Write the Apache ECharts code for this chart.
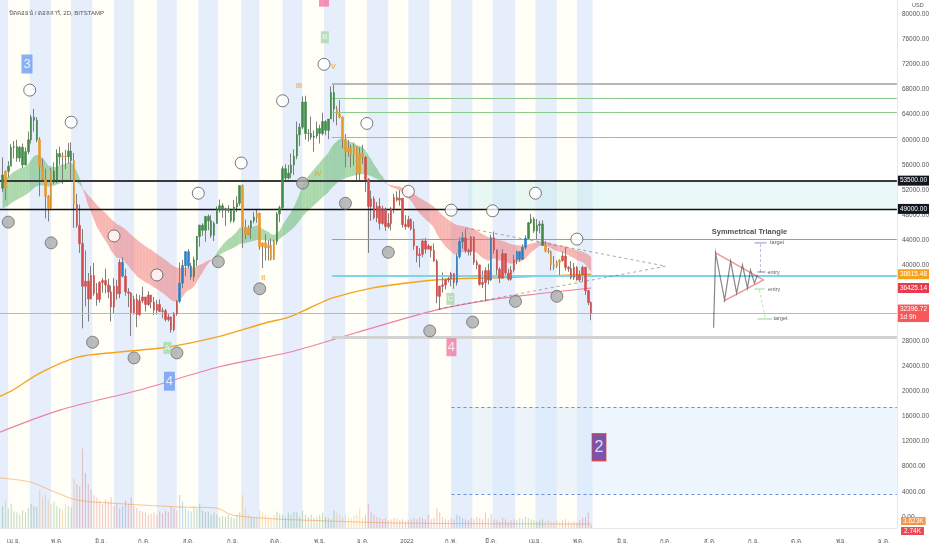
<!DOCTYPE html>
<html><head><meta charset="utf-8">
<script src="https://cdn.jsdelivr.net/npm/echarts@6/dist/echarts.min.js"></script>
<style>html,body{margin:0;padding:0;background:#fff}#c{width:932px;height:550px}</style>
</head><body><div id="c"></div>
<script>
// ---------------- DATA ----------------
const chartTitle = 'บิตคอยน์ / ดอลลาร์, 2D, BITSTAMP';
const firstCandleDate = '2021-03-23';
const candleDays = 2;
const firstOpen = 54400;
const closes = [52300,55000,55800,58800,58900,57100,58800,56000,58100,60000,
63600,63100,60000,55700,53800,51000,49100,55000,53600,57800,
57300,57400,57300,58200,56700,49700,46400,43500,36700,37500,
34700,38400,35600,34600,37300,37600,36900,35800,33400,36700,
35500,40500,38300,35800,35600,32500,34600,32200,34400,35000,
33800,35300,34200,32900,33800,32700,32800,31400,31800,29800,
32300,34300,37200,40000,42200,39900,38200,40900,44600,46400,
45600,47800,47100,44800,46700,48900,49500,48900,49000,48800,
47100,49300,49900,52700,46100,44900,46000,47100,47700,48300,
43000,43600,42800,43200,41000,43800,48200,49200,55400,53900,
54700,56000,57400,60800,62000,66000,61000,61000,60400,60600,
61800,61000,62900,61500,63300,67500,64900,64100,63600,60100,
58100,58700,57600,58900,54700,57800,57200,53700,49400,50600,
47600,49400,46700,48900,46200,46700,49000,50800,50400,50700,
46500,46200,47300,45800,43100,41600,41800,43900,42600,43100,
42400,40700,35100,36700,36900,37700,37900,38700,37300,41400,
43800,44400,42400,42200,44500,40500,40100,37000,37300,39200,
37700,44400,42500,39400,38000,41900,38800,37800,39300,40900,
42200,41000,42900,44300,46800,47400,45500,46400,46600,43200,
42300,42200,40100,39900,40500,40800,41500,39700,39500,38100,
39700,37700,38500,39700,36000,34100,32396.72];
const highs = [57200,55100,56600,59300,59800,60000,59000,59400,58800,61300,
64000,64900,63600,60400,57000,55400,51200,55500,56400,58500,
58900,58000,58400,59500,59600,57900,51400,49700,45800,42400,
38800,39900,40400,37200,37500,38000,39500,37900,36800,38000,
37700,41000,41300,39500,36400,35800,35200,35500,35300,36600,
35000,35900,35300,35000,34500,34600,33300,33100,32400,31900,
32600,34500,40500,40900,42300,42600,40400,41400,44700,46500,
46700,47900,48100,48000,47000,49400,50500,49900,49200,49600,
48900,50400,51000,52800,52900,47300,46400,47200,48500,48800,
48400,43600,45000,44000,44300,44100,48500,49500,55800,56100,
56000,57800,58500,62900,62600,66900,67000,61700,63700,61500,
62900,62400,64300,63100,63300,68500,69000,65400,66300,63700,
60900,60000,59200,59400,59000,58800,59200,57400,53900,51900,
51000,50100,50700,49500,49200,48300,49300,51400,51800,52000,
50700,48000,47900,47500,47000,43100,42800,44300,44400,43400,
43100,43500,41000,36800,38900,37900,38300,39000,38800,41900,
44500,45300,45800,42700,44700,44600,40900,40100,39200,39700,
40300,44900,45400,42500,39700,42600,41900,39500,39900,41700,
42400,42300,43400,44800,46900,48200,47700,47400,47100,47200,
43900,42800,42400,41500,40800,41000,42200,42900,39900,40700,
40400,39900,39200,40000,39800,36100,34300];
const lows = [51700,50400,54000,55800,57000,56500,56500,55500,55900,57700,
59400,61300,59600,51000,53500,47500,47000,48800,53000,53100,
56000,53000,55300,56200,53400,46000,46000,42000,30000,33500,
31100,34600,35200,33600,34100,35700,35600,34800,31100,32400,
34600,34800,38100,35200,33400,28800,32200,30200,32000,34000,
32700,33600,33200,32100,32200,32600,31600,31100,31100,29300,
29500,32000,34000,36400,38300,39500,37700,37500,39900,43000,
44700,43800,45600,44400,43900,46700,48400,47600,46300,48400,
46800,46800,48500,49500,42800,44200,44800,44200,46700,46800,
42500,39600,40800,40800,40800,40900,43300,46900,49000,53400,
53700,53900,54400,56900,59000,61700,60000,59700,60000,58100,
60200,59400,60700,60700,60100,63300,62800,62300,63400,58600,
55600,57300,55600,55900,53500,53400,56200,51700,42000,47100,
47300,46900,45700,46500,45500,45900,45600,48300,50200,49500,
46000,45700,46000,45600,42500,40500,39700,41300,41900,42600,
41300,40600,34000,32900,35700,36200,37300,36700,36300,36800,
41100,42700,42000,41600,41600,40100,39400,36800,36400,34300,
37000,37500,41900,38500,37200,37900,38200,37600,37600,38900,
40200,40600,40900,42500,44100,46600,45200,44200,45100,43100,
42100,41900,39200,39300,39600,38500,40600,39200,39000,37800,
37700,37600,37400,37500,35300,33700,31300];
// volume per candle, thousands BTC
const volumes = [20,25,18,22,15,14,12,16,14,18,
22,20,19,35,28,30,26,22,24,20,
18,16,22,20,19,45,40,38,72,50,
40,35,30,28,25,22,26,24,28,20,
22,18,20,25,22,28,20,18,16,15,
14,12,13,14,12,15,13,16,14,20,
18,16,30,24,18,16,15,20,18,22,
16,14,15,12,14,12,10,11,10,12,
10,9,12,14,30,18,12,10,9,10,
16,14,12,10,9,12,15,13,12,10,
14,12,15,14,10,16,12,10,12,9,
10,12,14,10,9,8,16,14,12,10,
12,10,9,11,12,18,10,12,22,14,
12,10,9,8,9,7,8,9,8,7,
8,6,7,8,9,8,10,9,8,12,
8,9,18,14,10,8,7,9,8,12,
11,9,8,7,9,8,10,9,8,14,
9,13,8,7,6,9,8,6,7,8,
7,9,8,10,9,8,7,6,7,8,
6,7,6,5,7,6,7,8,6,5,
6,5,7,9,10,14,2.74];
// trend-state of each candle (indicator colouring): g bull, o pullback, r bear, b rebound
const trendRuns = [['g',1],['o',1],['g',11],['o',5],['g',3],['o',2],['g',2],['o',1],['r',16],['b',1],['r',19],
['b',5],['g',17],['o',3],['g',2],['o',7],['g',21],['o',10],['r',32],['b',3],['r',9],['b',1],['r',8],['b',4],
['g',6],['o',6],['r',11]];
// EMA ribbon (fast / slow) lengths and values at the left edge
const ribbonLengths = [21, 55];
const ribbonStart = [54000, 49000];
// moving averages: days since 2021-04-01 -> value
const orangeMaDays = [-9.8,-0.7,18.1,43.9,71.9,106.7,141.6,176.5,192.5,206.5,222.5,250.4,285.3,309,332,366.9,404];
const orangeMaVals = [19200,20200,22900,25400,26200,27000,28600,30900,31800,33200,34800,36400,37500,37900,38000,38300,38615];
const pinkMaDays = [-9.8,32.1,87.9,143.7,192.5,239.3,295.1,332,366.9,404];
const pinkMaVals = [13500,17000,20200,23900,26200,29300,32900,34500,35500,36425];
const volMaDays = [-9.8,11.2,28.6,43.9,67,115.8,141.6,152.8,183.5,199.5,269.3,404];
const volMaVals = [45.5,41.8,32.7,25.5,22.7,19.1,18.2,11.8,8.2,7.3,4.5,3.6];
// moon phases
const priorNewMoon = '2021-03-13';
const newMoons = ['2021-04-12','2021-05-11','2021-06-10','2021-07-10','2021-08-08','2021-09-07','2021-10-06','2021-11-04','2021-12-04','2022-01-02','2022-02-01','2022-03-02','2022-04-01','2022-04-30'];
const newMoonLevels = [67900,62800,44700,38500,51500,56300,66200,72000,62600,51800,48800,48700,51500,44200];
const fullMoons = ['2021-03-28','2021-04-27','2021-05-26','2021-06-24','2021-07-24','2021-08-22','2021-09-20','2021-10-20','2021-11-19','2021-12-19','2022-01-17','2022-02-16','2022-03-18','2022-04-16'];
const fullMoonLevels = [46900,43600,27800,25300,26100,40600,36300,53100,49900,42100,29600,31000,34300,35100];
// axis ticks
const monthTickDates = ['2021-04-01','2021-05-01','2021-06-01','2021-07-01','2021-08-01','2021-09-01','2021-10-01','2021-11-01','2021-12-01','2022-01-01','2022-02-01','2022-03-01','2022-04-01','2022-05-01','2022-06-01','2022-07-01','2022-08-01','2022-09-01','2022-10-01','2022-11-01','2022-12-01'];
const monthTickLabels = ['เม.ย.','พ.ค.','มิ.ย.','ก.ค.','ส.ค.','ก.ย.','ต.ค.','พ.ย.','ธ.ค.','2022','ก.พ.','มี.ค.','เม.ย.','พ.ค.','มิ.ย.','ก.ค.','ส.ค.','ก.ย.','ต.ค.','พ.ย.','ธ.ค.'];
const priceTicks = [0,4000,8000,12000,16000,20000,24000,28000,32000,36000,40000,44000,48000,52000,56000,60000,64000,68000,72000,76000,80000];
// horizontal levels
const keyLevels = [53500, 49000];
const peakDay = 222.5;
const fibLevels = [68900, 66600, 64400, 60400];
const cyanLevels = [44100, 38300];
const baseLevel = 28600;
const targetZone = [17500, 3660];
const targetZoneDay = 306.2;
const resistZoneDay = 318;
const lastPrice = 32396.72;
const orangeLast = 38615.48;
const pinkLast = 36425.14;
// triangle (days since 2021-04-01, price)
const triUpper = [[316, 46000], [456.2, 39900]];
const triLower = [[297.2, 33100], [456.2, 39900]];
// wave labels
const waveBoxText = ['3','4','A','B','C','4','','2'];
const waveBoxKind = ['blue','blue','green','green','green','pink','pink','purple'];
const waveBoxDay = [9.1,108.8,107.4,217.6,305.5,306.2,217,409.5];
const waveBoxPrice = [72050,21600,26900,76300,34700,27000,82600,11100];
const romanText = ['II','III','IV','V'];
const romanDay = [174.4,199.5,212.8,223.5];
const romanPrice = [38000,68600,54600,71500];
// symmetrical triangle sketch
const sketchZigDays = [489.7,491.1,497.4,501.6,505.8,509.9,513.4,515.5,518.3,520.4];
const sketchZigVals = [30100,42000,34500,40700,35600,40100,36400,39300,37200,38500];
const sketchRedDays = [491.1,524.6,496.7];
const sketchRedVals = [42000,37700,34350];

// ---------------- BUILD ----------------
const ORIGIN = Date.UTC(2021, 3, 1);
function dayOf(s){ const p = s.split('-').map(Number); return (Date.UTC(p[0], p[1]-1, p[2]) - ORIGIN) / 86400000; }
const X_MIN = -9.8, X_MAX = 618, Y_MIN = -1750, Y_MAX = 82230;
const FONT = "'Liberation Sans','Noto Sans',sans-serif";
const candleStart = dayOf(firstCandleDate);
const N = closes.length;
const candleX = closes.map((_, i) => candleStart + i*candleDays + candleDays/2);
const opens = closes.map((c, i) => i === 0 ? firstOpen : closes[i-1]);
const states = [];
trendRuns.forEach(([s, n]) => { for (let k = 0; k < n; k++) states.push(s); });
const stateColor = {g:'#3f8c48', r:'#d44d4b', o:'#e9992a', b:'#2b82c6'};
const lastEnd = candleStart + N*candleDays;

// EMA ribbon
const emaF = [], emaS = [];
{ let f = ribbonStart[0], s = ribbonStart[1];
  const af = 2/(ribbonLengths[0]+1), as = 2/(ribbonLengths[1]+1);
  closes.forEach(c => { f += af*(c-f); s += as*(c-s); emaF.push(f); emaS.push(s); }); }
const ribbonData = [];
for (let i = 1; i < N; i++) ribbonData.push([candleX[i-1], emaF[i-1], emaS[i-1], candleX[i], emaF[i], emaS[i]]);

// moon bands
const events = [[dayOf(priorNewMoon),1]].concat(newMoons.map(d => [dayOf(d),1]), fullMoons.map(d => [dayOf(d),0])).sort((a,b)=>a[0]-b[0]);
const bandData = [];
for (let k = 0; k < events.length; k++) {
  const a = events[k][0], b = k+1 < events.length ? events[k+1][0] : lastEnd;
  bandData.push([Math.max(a, X_MIN), Math.min(b, lastEnd), events[k][1]]);
}

const zoneData = [
  [resistZoneDay, X_MAX, keyLevels[0], keyLevels[1], 0],
  [targetZoneDay, X_MAX, targetZone[0], targetZone[1], 1]
];

function tag(text, bg){
  return {show:true, position:'end', distance:1, formatter:text, backgroundColor:bg, color:'#fff',
    fontSize:6.5, fontFamily:FONT, padding:[1.5,2,1,2], lineHeight:7.5};
}
const HIDDEN = 'rgba(0,0,0,0)';
const markLines = [];
markLines.push({yAxis:keyLevels[0], lineStyle:{color:'#3a3a3a', width:2, type:'solid'}, label:tag('53500.00','#131722')});
markLines.push({yAxis:keyLevels[1], lineStyle:{color:'#111', width:1.3, type:'solid'}, label:tag('49000.00','#131722')});
markLines.push({yAxis:lastPrice, lineStyle:{color:'#f4a0a0', width:1, type:'solid'}, label:tag('32396.72\n1d 9h','#f55a5a')});
markLines.push({yAxis:orangeLast, lineStyle:{color:HIDDEN, width:0}, label:tag('38615.48','#f6a21e')});
markLines.push({yAxis:pinkLast, lineStyle:{color:HIDDEN, width:0}, label:tag('36425.14','#ea3a4f')});
fibLevels.forEach((v,k) => markLines.push([{coord:[peakDay, v], lineStyle:{color:k===0?'#b8b8b8':'#8cc98c', width:k===0?2:1, type:'solid'}}, {coord:[X_MAX, v]}]));
markLines.push([{coord:[peakDay, cyanLevels[0]], lineStyle:{color:'#58b6cf', width:1, type:'solid'}}, {coord:[X_MAX, cyanLevels[0]]}]);
markLines.push([{coord:[peakDay, cyanLevels[1]], lineStyle:{color:'#7dd5ea', width:2, type:'solid'}}, {coord:[X_MAX, cyanLevels[1]]}]);
markLines.push([{coord:[peakDay, baseLevel], lineStyle:{color:'#d2d2d2', width:3, type:'solid'}}, {coord:[X_MAX, baseLevel]}]);
targetZone.forEach(v => markLines.push([{coord:[targetZoneDay, v], lineStyle:{color:'#6d8fe0', width:1, type:[3,3]}}, {coord:[X_MAX, v]}]));

// candle data
const wickData = candleX.map((x,i) => [x, opens[i], closes[i], lows[i], highs[i]]);
const bodySeries = Object.keys(stateColor).map(st => ({
  type:'candlestick', name:'body-'+st, z:5, barWidth:2.1, silent:true,
  itemStyle:{color:stateColor[st], color0:stateColor[st], borderColor:stateColor[st], borderColor0:stateColor[st], borderWidth:0.6},
  data: candleX.map((x,i) => states[i]===st ? [x, opens[i], closes[i], Math.min(opens[i],closes[i]), Math.max(opens[i],closes[i])] : null).filter(Boolean)
}));

const volData = candleX.map((x,i) => ({value:[x, volumes[i]], itemStyle:{color:stateColor[states[i]], opacity:0.32}}));

// annotation lines (triangle + sketch)
const annLines = [
  {coords:triUpper, lineStyle:{color:'#555', width:1, type:[3,3]}},
  {coords:triLower, lineStyle:{color:'#555', width:1, type:[3,3]}},
  {coords:sketchZigDays.map((d,k)=>[d, sketchZigVals[k]]), lineStyle:{color:'#111', width:1.2, type:'solid'}},
  {coords:sketchRedDays.map((d,k)=>[d, sketchRedVals[k]]), lineStyle:{color:'#d32f2f', width:1.4, type:'solid'}},
  {coords:[[522.5,38970],[522.5,43600]], lineStyle:{color:'#7e6fd0', width:1, type:[3,2]}},
  {coords:[[518.3,43600],[526.7,43600]], lineStyle:{color:'#5b4bb8', width:1.3, type:'solid'}},
  {coords:[[520.4,38970],[526.0,38970]], lineStyle:{color:'#2a3270', width:1.3, type:'solid'}},
  {coords:[[518.3,36260],[525.3,36260]], lineStyle:{color:'#5cc05c', width:1.3, type:'solid'}},
  {coords:[[521.8,36100],[526.0,31500]], lineStyle:{color:'#6fd06f', width:1, type:[3,2]}},
  {coords:[[520.4,31500],[530.9,31500]], lineStyle:{color:'#5cc05c', width:1.3, type:'solid'}}
];
const sketchTexts = [
  {value:[514.8,45400], label:{formatter:'Symmetrical Triangle', position:'inside', fontSize:7.5, fontWeight:'bold', color:'#222'}},
  {value:[529.2,43600], label:{formatter:'target', position:'right', distance:0, fontSize:5.5, color:'#333'}},
  {value:[527.4,38970], label:{formatter:'entry', position:'right', distance:0, fontSize:5.5, color:'#333'}},
  {value:[527.8,36260], label:{formatter:'entry', position:'right', distance:0, fontSize:5.5, color:'#333'}},
  {value:[531.6,31500], label:{formatter:'target', position:'right', distance:0, fontSize:5.5, color:'#333'}}
];

const boxStyle = {
  blue:{size:[11,19], color:'#6e9cf0', border:null, font:13},
  green:{size:[8,12], color:'#a8d8aa', border:null, font:8},
  pink:{size:[10,18], color:'#f07aa2', border:null, font:13},
  purple:{size:[14,27], color:'#5a2d9c', border:'#e53935', font:16}
};
const boxData = waveBoxText.map((t,k) => {
  const st = boxStyle[waveBoxKind[k]];
  return {value:[waveBoxDay[k], waveBoxPrice[k]], symbol:'rect', symbolSize:st.size,
    itemStyle:{color:st.color, borderColor:st.border||st.color, borderWidth:st.border?1.2:0},
    label:{show:true, position:'inside', formatter:t, color:'#fff', fontSize:st.font, fontFamily:FONT}};
});

const option = {
  animation:false,
  textStyle:{fontFamily:FONT},
  title:{text:chartTitle, left:4, top:5, textStyle:{fontSize:6, fontWeight:'normal', color:'#555', fontFamily:FONT}},
  grid:{left:0, right:32, top:0, bottom:22},
  xAxis:{type:'value', min:X_MIN, max:X_MAX, splitLine:{show:false}, axisTick:{show:false},
    axisLine:{show:true, onZero:false, lineStyle:{color:'#e6e8ee'}},
    axisLabel:{customValues:monthTickDates.map(dayOf), fontSize:6, color:'#555', margin:10, fontFamily:FONT,
      formatter:v => { const k = monthTickDates.map(dayOf).indexOf(v); return k >= 0 ? monthTickLabels[k] : ''; }}},
  yAxis:[
    {type:'value', position:'right', min:Y_MIN, max:Y_MAX, splitLine:{show:false}, axisTick:{show:false},
     axisLine:{show:true, onZero:false, lineStyle:{color:'#e6e8ee'}},
     axisLabel:{customValues:priceTicks, formatter:v => v.toFixed(2), fontSize:6.5, color:'#555', margin:5, fontFamily:FONT}},
    {type:'value', min:0, max:480, show:false, axisLine:{onZero:false}}
  ],
  graphic:[
    {type:'text', left:912, top:2, z:100, style:{text:'USD', fontSize:5.5, fill:'#555', fontFamily:FONT}},
    {type:'text', left:901, top:517, z:100, style:{text:'3.623K', fontSize:6.5, fill:'#fff', backgroundColor:'#f5944a', padding:[1,2,0,2], fontFamily:FONT}},
    {type:'text', left:901, top:527, z:99, style:{text:'2.74K', fontSize:6.5, fill:'#fff', backgroundColor:'#ee4a55', padding:[1,3,0,3], fontFamily:FONT}}
  ],
  series:[
    {type:'custom', name:'moon', z:0, silent:true, data:bandData,
     renderItem:(p, api) => { const a = api.coord([api.value(0), Y_MAX]), b = api.coord([api.value(1), Y_MIN]);
       return {type:'rect', shape:{x:a[0], y:a[1], width:b[0]-a[0], height:b[1]-a[1]}, style:{fill: api.value(2)===1 ? '#e6eefb' : '#fffef7'}}; }},
    {type:'custom', name:'zones', z:1, silent:true, data:zoneData,
     renderItem:(p, api) => { const a = api.coord([api.value(0), api.value(2)]), b = api.coord([api.value(1), api.value(3)]);
       return {type:'rect', shape:{x:a[0], y:a[1], width:b[0]-a[0], height:b[1]-a[1]}, style:{fill: api.value(4)===0 ? 'rgba(190,236,232,0.35)' : 'rgba(214,232,250,0.45)'}}; }},
    {type:'custom', name:'ribbon', z:2, silent:true, data:ribbonData,
     renderItem:(p, api) => {
       const p1 = api.coord([api.value(0), api.value(1)]), p2 = api.coord([api.value(3), api.value(4)]);
       const p3 = api.coord([api.value(3), api.value(5)]), p4 = api.coord([api.value(0), api.value(2)]);
       const bull = api.value(4) >= api.value(5);
       return {type:'polygon', shape:{points:[p1,p2,p3,p4]}, style:{fill: bull ? 'rgba(90,180,95,0.5)' : 'rgba(240,95,95,0.45)', stroke:'none'}}; }},
    {type:'bar', name:'volume', yAxisIndex:1, z:2, barWidth:1, silent:true, data:volData},
    {type:'line', name:'volMA', yAxisIndex:1, z:3, showSymbol:false, smooth:0.3, silent:true,
     lineStyle:{color:'rgba(245,160,80,0.6)', width:1}, data:volMaDays.map((d,k)=>[d, volMaVals[k]])},
    {type:'line', name:'orangeMA', z:3, showSymbol:false, smooth:0.3, silent:true,
     lineStyle:{color:'#f5a31e', width:1.4}, data:orangeMaDays.map((d,k)=>[d, orangeMaVals[k]])},
    {type:'line', name:'pinkMA', z:3, showSymbol:false, smooth:0.3, silent:true,
     lineStyle:{color:'#ee7fa3', width:1.1}, data:pinkMaDays.map((d,k)=>[d, pinkMaVals[k]])},
    {type:'candlestick', name:'wicks', z:4, barWidth:0.4, silent:true, data:wickData,
     itemStyle:{color:'#7f7f7f', color0:'#7f7f7f', borderColor:'#7f7f7f', borderColor0:'#7f7f7f', borderWidth:1},
     markLine:{silent:true, symbol:['none','none'], animation:false, label:{show:false}, data:markLines}},
    ...bodySeries,
    {type:'lines', name:'annotations', coordinateSystem:'cartesian2d', polyline:true, z:6, silent:true, data:annLines},
    {type:'scatter', name:'newMoon', z:7, symbolSize:12, silent:true,
     itemStyle:{color:'#fff', borderColor:'#595959', borderWidth:1},
     data:newMoons.map((d,k)=>[dayOf(d), newMoonLevels[k]])},
    {type:'scatter', name:'fullMoon', z:7, symbolSize:12, silent:true,
     itemStyle:{color:'#ababab', borderColor:'#6b6b6b', borderWidth:1},
     data:fullMoons.map((d,k)=>[dayOf(d), fullMoonLevels[k]])},
    {type:'scatter', name:'waveBoxes', z:8, clip:false, silent:true, data:boxData},
    {type:'scatter', name:'roman', z:8, symbolSize:0.1, silent:true, itemStyle:{color:'transparent'},
     label:{show:true, position:'inside', color:'#f0a02c', fontSize:7, fontWeight:'bold', fontFamily:FONT},
     data:romanText.map((t,k)=>({value:[romanDay[k], romanPrice[k]], label:{formatter:t}}))},
    {type:'scatter', name:'sketchText', z:8, symbolSize:0.1, silent:true, itemStyle:{color:'transparent'},
     label:{show:true, fontFamily:FONT}, data:sketchTexts}
  ]
};
const chart = echarts.init(document.getElementById('c'));
chart.setOption(option);
</script>
</body></html>
